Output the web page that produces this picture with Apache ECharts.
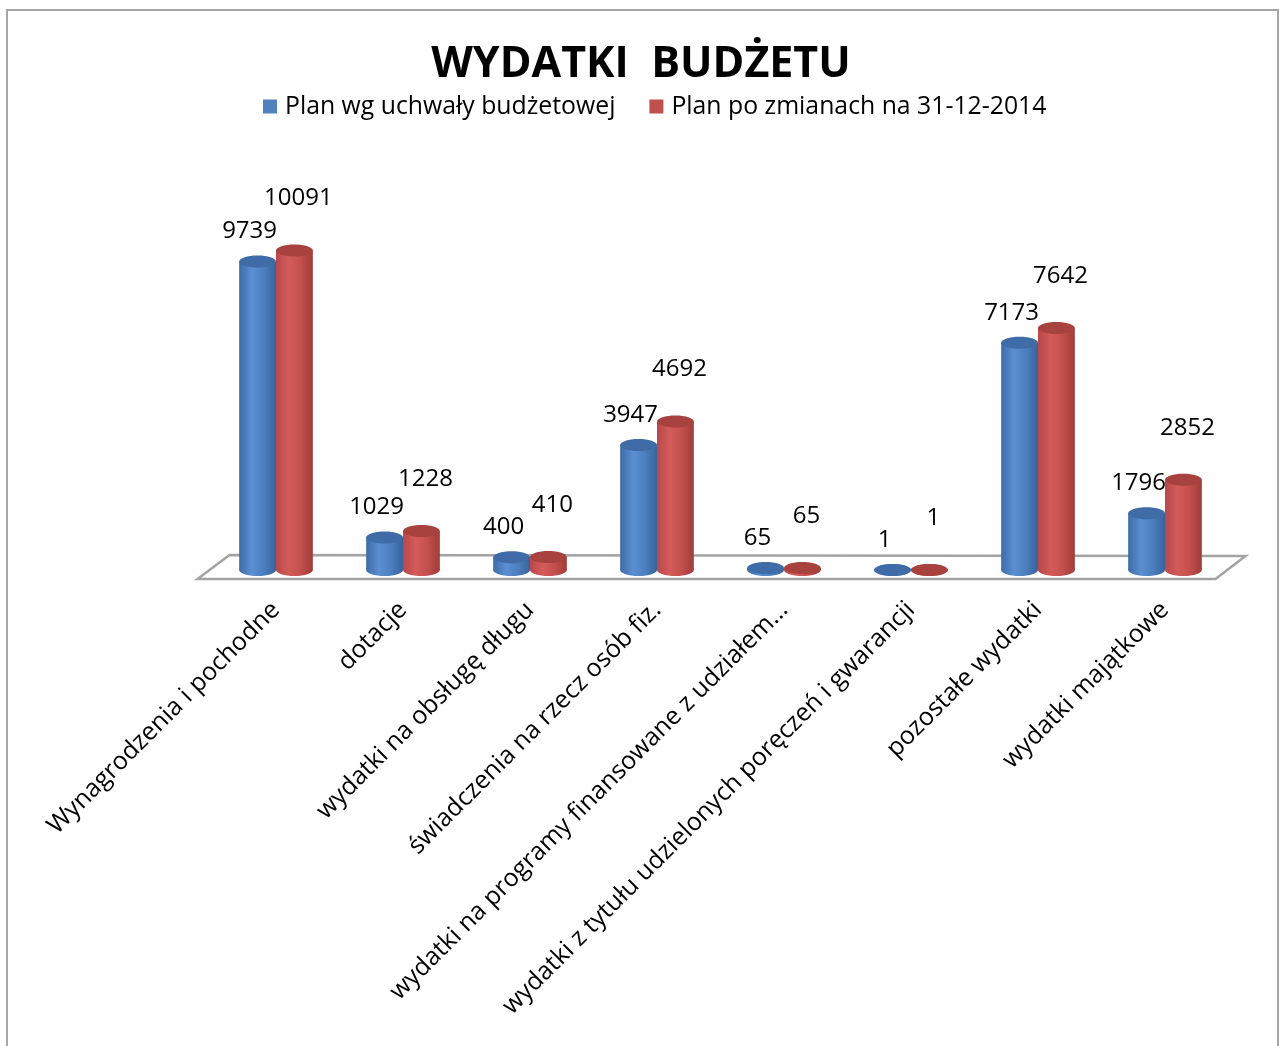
<!DOCTYPE html>
<html>
<head>
<meta charset="utf-8">
<title>Wydatki budżetu</title>
<script src="https://cdn.jsdelivr.net/npm/echarts@6/dist/echarts.min.js"></script>
<style>
html, body { margin: 0; padding: 0; background: #fff; }
#main { width: 1282px; height: 1046px; }
#ramka { position: absolute; left: 6px; top: 9px; width: 1273px; height: 1100px;
         border: 2px solid #a6a6a6; box-sizing: border-box; pointer-events: none; }
</style>
</head>
<body>
<div id="main"></div>
<div id="ramka"></div>
<script>
// dane z wykresu
var kategorie = [
    'Wynagrodzenia i pochodne',
    'dotacje',
    'wydatki na obsługę długu',
    'świadczenia na rzecz osób fiz.',
    'wydatki na programy finansowane z udziałem…',
    'wydatki z tytułu udzielonych poręczeń i gwarancji',
    'pozostałe wydatki',
    'wydatki majątkowe'
];
var planUchwala = [9739, 1029, 400, 3947, 65, 1, 7173, 1796];
var planZmiany = [10091, 1228, 410, 4692, 65, 1, 7642, 2852];
var nazwySerii = ['Plan wg uchwały budżetowej', 'Plan po zmianach na 31-12-2014'];

var czcionka = '"Open Sans", "DejaVu Sans", sans-serif';

var myChart = echarts.init(document.getElementById('main'));

// cylinder 3D - side: -1 lewy (niebieski), 1 prawy (czerwony)
function walec(side, stopy, gora, dx, lift) {
    return function (params, api) {
        var i = api.value(0), v = api.value(1);
        var base = api.coord([i, 0]);
        var pt = api.coord([i, v]);
        var band = api.size([1, 0])[0];
        var w = band * 0.29;
        var rx = w / 2, ry = 6;
        var cx = base[0] + side * rx;
        var grad = { type: 'linear', x: 0, y: 0, x2: 1, y2: 0, colorStops: stopy };
        return {
            type: 'group',
            children: [
                { type: 'rect', shape: { x: cx - rx, y: pt[1], width: w, height: Math.max(base[1] - pt[1], 0) },
                  style: { fill: grad } },
                { type: 'ellipse', shape: { cx: cx, cy: base[1], rx: rx, ry: ry }, style: { fill: grad } },
                { type: 'ellipse', shape: { cx: cx, cy: pt[1], rx: rx, ry: ry }, style: { fill: gora } },
                { type: 'text', style: { text: String(v), x: cx + dx, y: pt[1] - ry - lift,
                  align: 'center', verticalAlign: 'bottom', fontSize: 24, fontFamily: czcionka, fill: '#000' } }
            ]
        };
    };
}

// podloga wykresu
function podloga(params, api) {
    var cs = params.coordSys;
    var y = api.coord([0, 0])[1];
    var x0 = cs.x, x1 = cs.x + cs.width;
    return {
        type: 'polygon',
        shape: { points: [[x0 - 15, y + 9], [x0 + 17, y - 15], [x1 + 17, y - 14], [x1 - 13, y + 9]] },
        style: { fill: '#fff', stroke: '#a3a3a3', lineWidth: 2.5 },
        silent: true
    };
}

var option = {
    animation: false,
    title: {
        text: 'WYDATKI  BUDŻETU',
        left: 'center',
        top: 38,
        textStyle: { fontFamily: czcionka, fontSize: 43, fontWeight: 'bold', color: '#000' }
    },
    legend: {
        data: nazwySerii,
        top: 89,
        left: 258,
        icon: 'rect',
        itemWidth: 14,
        itemHeight: 14,
        itemGap: 34,
        textStyle: { fontFamily: czcionka, fontSize: 24.8, color: '#000', padding: [0, 0, 0, 3] }
    },
    grid: { left: 212.5, right: 53.5, top: 190, bottom: 476 },
    xAxis: {
        type: 'category',
        data: kategorie,
        axisLine: { show: false },
        axisTick: { show: false },
        axisLabel: { interval: 0, rotate: 45, margin: 36, fontFamily: czcionka, fontSize: 25, color: '#000' }
    },
    yAxis: { type: 'value', min: 0, max: 12000, show: false, splitLine: { show: false } },
    series: [
        {
            name: 'podloga',
            type: 'custom',
            renderItem: podloga,
            data: [[0, 0]],
            z: 1,
            silent: true
        },
        {
            name: nazwySerii[0],
            type: 'custom',
            itemStyle: { color: '#4f81bd' },
            renderItem: walec(-1, [
                { offset: 0, color: '#3d6ba8' },
                { offset: 0.35, color: '#5b8fd1' },
                { offset: 0.65, color: '#4e80c0' },
                { offset: 1, color: '#38629c' }
            ], '#3f6ca6', -8, 12),
            data: planUchwala.map(function (v, i) { return [i, v]; }),
            z: 2
        },
        {
            name: nazwySerii[1],
            type: 'custom',
            itemStyle: { color: '#c0504d' },
            renderItem: walec(1, [
                { offset: 0, color: '#b9474a' },
                { offset: 0.35, color: '#d35c59' },
                { offset: 0.65, color: '#c4504d' },
                { offset: 1, color: '#a03c3a' }
            ], '#a8423f', 4, 34),
            data: planZmiany.map(function (v, i) { return [i, v]; }),
            z: 3
        }
    ]
};

myChart.clear();
myChart.setOption(option);
</script>
</body>
</html>
